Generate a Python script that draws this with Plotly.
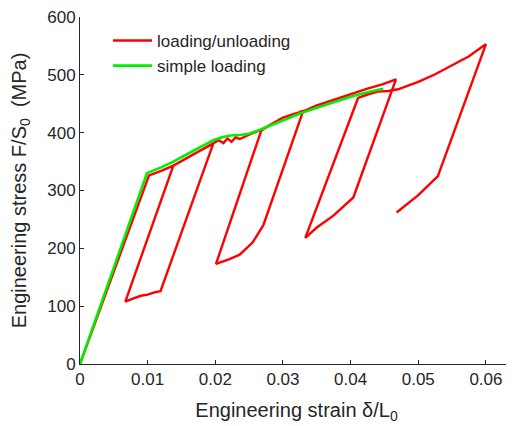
import plotly.graph_objects as go

# ---- data ----
# simple loading curve (green)
simple_strain = [0.0, 0.0099, 0.0120, 0.0138, 0.0165, 0.0197, 0.0210, 0.0222, 0.0236,
                 0.0250, 0.0266, 0.0285, 0.0300, 0.0325, 0.0350, 0.0375, 0.0400, 0.0425, 0.0448]
simple_stress = [0.0, 330, 340, 350, 367, 387, 392, 395, 396,
                 398, 405, 414, 422, 433, 443, 453, 462, 470, 476]

# loading / unloading curve (red)
lu_strain = [0.0, 0.0102, 0.0120, 0.0138, 0.0165, 0.0197,            # loading to first peak
             0.0119, 0.0110, 0.0100, 0.0090, 0.0080, 0.0067,         # unloading / relaxation
             0.0138, 0.0165, 0.0197, 0.0205, 0.0212, 0.0218, 0.0224, 0.0230, 0.0236, 0.0245,
             0.0255, 0.0268, 0.0285, 0.0300, 0.0315, 0.0330,         # second peak
             0.0271, 0.0255, 0.0236, 0.0220, 0.0201,
             0.0268, 0.0285, 0.0300, 0.0315, 0.0330, 0.0350, 0.0375, 0.0400, 0.0425, 0.0448, 0.0467,
             0.0404, 0.0375, 0.0350, 0.0340, 0.0333,
             0.0411, 0.0425, 0.0440, 0.0456, 0.0470, 0.0485, 0.0500, 0.0525, 0.0550, 0.0575, 0.0596, 0.0600,
             0.0529, 0.0500, 0.0468]
lu_stress = [0.0, 326, 334, 343, 361, 381,
             126, 124, 120, 118, 114, 108,
             343, 361, 381, 387, 382, 390, 384, 392, 389, 394,
             399, 405, 416, 426, 431, 438,
             240, 210, 189, 181, 173,
             404, 416, 426, 432, 437, 447, 457, 467, 476, 484, 492,
             288, 257, 236, 226, 218,
             460, 466, 471, 472, 475, 481, 488, 501, 516, 532, 550, 553,
             325, 292, 262]

x_ticks = [0, 0.01, 0.02, 0.03, 0.04, 0.05, 0.06]
x_tick_labels = ["0", "0.01", "0.02", "0.03", "0.04", "0.05", "0.06"]
y_ticks = [0, 100, 200, 300, 400, 500, 600]

FONT = "Liberation Sans, Arial, Helvetica, sans-serif"
AX = "#262626"

fig = go.Figure()
fig.add_trace(go.Scatter(x=lu_strain, y=lu_stress, mode="lines", name="loading/unloading",
                         line=dict(color="#ff0000", width=2.4)))
fig.add_trace(go.Scatter(x=simple_strain, y=simple_stress, mode="lines", name="simple loading",
                         line=dict(color="#00ee00", width=2.6)))

# page body has an 8px default margin, so the figure is sized to fit inside the window
fig.update_layout(
    width=506, height=418,
    margin=dict(l=72, r=1, t=9, b=62, autoexpand=False),
    paper_bgcolor="white", plot_bgcolor="white",
    font=dict(family=FONT, size=17, color=AX),
    showlegend=True,
    legend=dict(x=(113 - 5 - 80) / 433, y=1.0 - 6 / 347, xanchor="left", yanchor="top",
                bgcolor="rgba(0,0,0,0)", borderwidth=0, itemwidth=39,
                font=dict(size=17, color=AX), tracegroupgap=0),
    xaxis=dict(range=[0, 0.064], tickvals=x_ticks, ticktext=x_tick_labels, automargin=False,
               showline=True, linecolor=AX, linewidth=1, mirror=False,
               ticks="inside", ticklen=4, tickcolor=AX, showgrid=False, zeroline=False,
               ticklabeloverflow="allow",
               title=dict(text="Engineering strain δ/L<sub>0</sub>", standoff=14)),
    yaxis=dict(range=[0, 600], tickvals=y_ticks, automargin=False,
               showline=True, linecolor=AX, linewidth=1, mirror=False,
               ticks="inside", ticklen=4, tickcolor=AX, showgrid=False, zeroline=False,
               ticklabeloverflow="allow",
               title=dict(text="Engineering stress F/S<sub>0</sub>  (MPa)", standoff=18)),
)

fig.write_html("out.html")
